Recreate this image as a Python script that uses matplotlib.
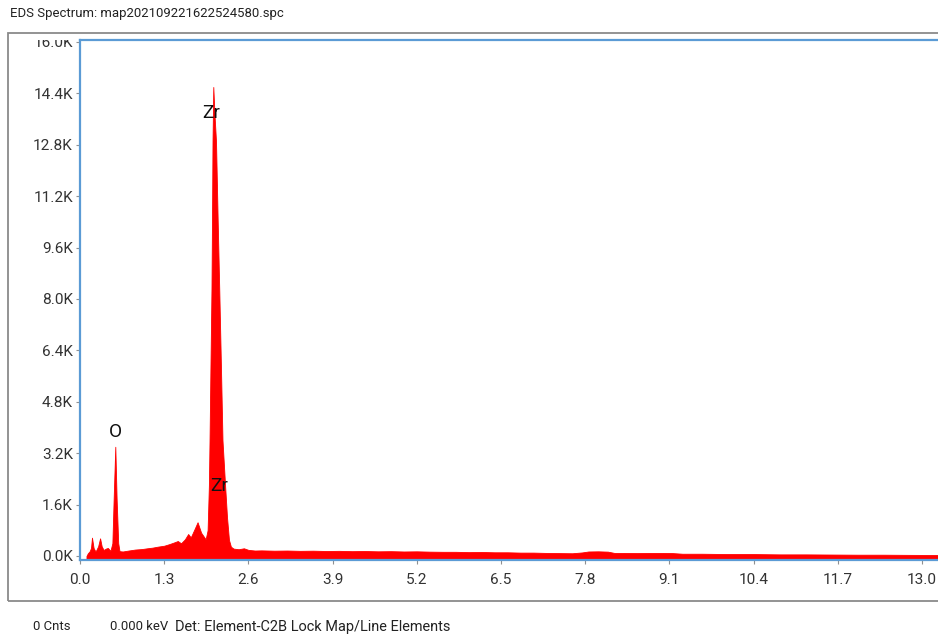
import matplotlib
matplotlib.use("Agg")
import matplotlib.pyplot as plt
from matplotlib import font_manager as fm
from matplotlib.patches import Rectangle
from matplotlib.transforms import Bbox, TransformedBbox, blended_transform_factory

# police étroite si dispo, sinon Roboto
names = {f.name for f in fm.fontManager.ttflist}
main_font = 'Liberation Sans Narrow' if 'Liberation Sans Narrow' in names else 'Roboto'
plt.rcParams['font.family'] = [main_font, 'DejaVu Sans']

# spectre (keV, coups)
energy_kev = [0.10, 0.12, 0.15, 0.17, 0.185, 0.21, 0.24, 0.28, 0.31, 0.335, 0.365, 0.40,
              0.43, 0.47, 0.50, 0.52, 0.545, 0.565, 0.59, 0.61, 0.66, 0.75, 0.85, 0.95,
              1.04, 1.12, 1.20, 1.30, 1.38, 1.45, 1.51, 1.56, 1.62, 1.67, 1.71, 1.76,
              1.815, 1.87, 1.94, 1.97, 1.99, 2.00, 2.015, 2.03, 2.04, 2.046, 2.058, 2.075,
              2.10, 2.125, 2.15, 2.175, 2.20, 2.24, 2.27, 2.30, 2.33, 2.37, 2.45, 2.53,
              2.60, 2.70, 2.80, 3.0, 3.2, 3.4, 3.6, 3.8, 4.0, 4.2, 4.4, 4.6, 4.8, 5.0,
              5.2, 5.4, 5.6, 5.8, 6.0, 6.2, 6.4, 6.6, 6.8, 7.0, 7.2, 7.4, 7.6, 7.75,
              7.85, 8.0, 8.15, 8.25, 8.4, 8.6, 8.8, 9.0, 9.15, 9.3, 9.6, 10.0, 10.4,
              10.8, 11.2, 11.6, 12.0, 12.4, 12.8, 13.3]
counts = [0, 80, 150, 250, 570, 250, 135, 300, 550, 300, 187, 230,
          250, 160, 400, 1800, 3400, 1800, 400, 150, 140, 170, 200, 215,
          240, 260, 290, 320, 370, 420, 466, 395, 520, 684, 580, 800,
          1050, 725, 520, 800, 2200, 3600, 6000, 8300, 11000, 12900, 14600, 13800,
          12900, 10500, 8300, 6000, 3600, 2200, 1200, 500, 290, 230, 210, 240,
          190, 170, 175, 165, 170, 160, 165, 155, 160, 150, 155, 145, 150, 140,
          145, 135, 130, 130, 120, 125, 115, 115, 105, 105, 95, 90, 85, 110,
          140, 145, 135, 95, 95, 90, 95, 95, 90, 70, 70, 60, 60,
          50, 50, 45, 40, 40, 35, 30]

peak_labels = ["O", "Zr", "Zr"]
peak_x = [0.55, 2.02, 2.15]
peak_y = [3860, 13800, 2180]

x_ticks = [0.0, 1.3, 2.6, 3.9, 5.2, 6.5, 7.8, 9.1, 10.4, 11.7, 13.0]
y_ticks = [0, 1600, 3200, 4800, 6400, 8000, 9600, 11200, 12800, 14400, 16000]

title_txt = "EDS Spectrum: map202109221622524580.spc"
footer_txt = ["0 Cnts", "0.000 keV", "Det: Element-C2B Lock Map/Line Elements"]
footer_px = [33, 110, 175]

blue = '#5b9bd5'
grey_txt = '#333333'

fig = plt.figure(figsize=(9.38, 6.44), dpi=100)

# taille de police calée sur la largeur du titre (273 px dans l'original)
title = fig.text(10 / 938, 1 - 14 / 644, title_txt, fontsize=12, color='#222222', va='center')
w = title.get_window_extent(renderer=fig.canvas.get_renderer()).width
fs = 12 * 273 / w
title.set_fontsize(fs)

# cadre gris autour du graphe
fig.add_artist(Rectangle((8 / 938, 1 - 601 / 644), 1.0, 568 / 644,
                         transform=fig.transFigure, fill=False,
                         ec='#8a8a8a', lw=1.3))

ax = fig.add_axes([80 / 938, 1 - 560 / 644, 860 / 938, 520 / 644])
ax.fill_between(energy_kev, counts, -125, color='#ff0000', lw=0.6, ec='#ff0000')
ax.set_xlim(0, 13.278)
ax.set_ylim(-125, 16062)

for s in ['left', 'top', 'bottom']:
    ax.spines[s].set_color(blue)
    ax.spines[s].set_linewidth(1.6)
ax.spines['right'].set_visible(False)

ax.set_xticks(x_ticks)
ax.set_xticklabels([f"{v:.1f}" for v in x_ticks])
ax.set_yticks(y_ticks)
ax.set_yticklabels([f"{v / 1000:.1f}K" for v in y_ticks])
ax.tick_params(direction='out', length=3, width=0.8, color='#909090',
               labelsize=fs * 1.17, labelcolor=grey_txt, pad=2)
ax.tick_params(axis='x', pad=6)

# le 16.0K est coupé par le haut du cadre
clip = TransformedBbox(Bbox([[0, -1], [1, 1]]),
                       blended_transform_factory(fig.transFigure, ax.transAxes))
for lab in ax.get_yticklabels():
    lab.set_clip_box(clip)
    lab.set_clip_on(True)

for name, px, py in zip(peak_labels, peak_x, peak_y):
    ax.text(px, py, name, fontsize=fs * 1.45, color='#111111', ha='center', va='center')

# bas de fenêtre : le dernier texte un peu plus large dans l'original
for i, (txt, px) in enumerate(zip(footer_txt, footer_px)):
    size = fs * (1.1 if i == 2 else 1.0)
    fig.text(px / 938, 1 - 627 / 644, txt, fontsize=size, color='#222222', va='center')

fig.savefig("out.png", dpi=100)
